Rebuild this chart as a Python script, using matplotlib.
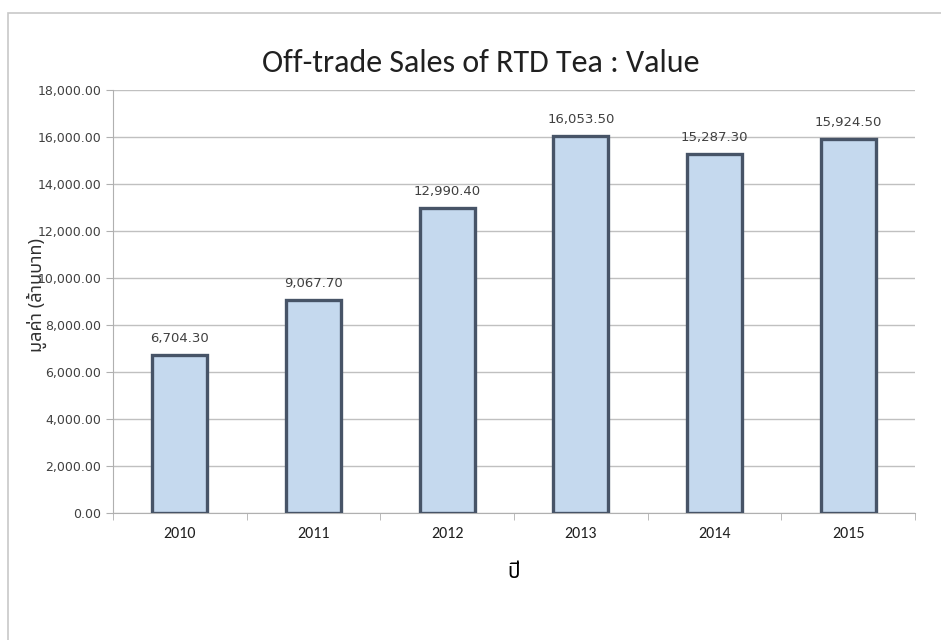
import matplotlib
matplotlib.use("Agg")
import matplotlib.pyplot as plt
from matplotlib import font_manager
from matplotlib.patches import Rectangle
from matplotlib.ticker import FuncFormatter, MultipleLocator

# Off-trade sales of RTD tea, value (million baht)
years = ["2010", "2011", "2012", "2013", "2014", "2015"]
values = [6704.30, 9067.70, 12990.40, 16053.50, 15287.30, 15924.50]

# pick a Thai-capable family that is actually installed
installed = {f.name for f in font_manager.fontManager.ttflist}
thai_font = next((n for n in ['Noto Sans Thai', 'Sarabun', 'Noto Sans Thai Looped',
                              'Anuphan', 'Athiti'] if n in installed), 'DejaVu Sans')
latin_font = 'Carlito' if 'Carlito' in installed else 'DejaVu Sans'

plt.rcParams['font.family'] = ['DejaVu Sans', thai_font]

fig = plt.figure(figsize=(9.41, 6.4), dpi=100)
ax = fig.add_axes([113 / 941, 1 - 513 / 640, (915 - 113) / 941, (513 - 90) / 640])

# outer chart frame
fig.patches.append(Rectangle((8 / 941, -0.01), 1.0, 1 - 13 / 640 + 0.01,
                             transform=fig.transFigure, fill=False,
                             edgecolor='#c8c8c8', linewidth=1.2))

x = list(range(len(years)))
ax.bar(x, values, width=0.41, color='#c5d9ee', edgecolor='#475467',
       linewidth=2.4, zorder=3)

for xi, v in zip(x, values):
    ax.text(xi, v + 430, f"{v:,.2f}", ha='center', va='bottom',
            fontsize=9.5, color='#404040')

ax.set_xlim(-0.5, len(years) - 0.5)
ax.set_ylim(0, 18000)
ax.yaxis.set_major_locator(MultipleLocator(2000))
ax.yaxis.set_major_formatter(FuncFormatter(lambda v, p: f"{v:,.2f}"))
ax.grid(axis='y', color='#c0c0c0', linewidth=1, zorder=0)

ax.set_xticks(x)
ax.set_xticklabels(years, family=latin_font, fontsize=11.5, color='#202020')
ax.set_xticks([i - 0.5 for i in range(len(years) + 1)], minor=True)
ax.tick_params(axis='x', which='major', length=0, pad=10)
ax.tick_params(axis='x', which='minor', length=5, color='#b0b0b0', direction='out')
ax.tick_params(axis='y', length=5, color='#b0b0b0', labelsize=9, labelcolor='#404040')

for side in ['top', 'right']:
    ax.spines[side].set_visible(False)
for side in ['left', 'bottom']:
    ax.spines[side].set_color('#b0b0b0')

# title sits a little left of the plot centre, as in the source chart
fig.text(481 / 941, 1 - 72 / 640, "Off-trade Sales of RTD Tea : Value", fontsize=23,
         color='#202020', ha='center', va='baseline', family=latin_font)
ax.set_xlabel("ปี", fontsize=15, labelpad=15, family=[thai_font, 'DejaVu Sans'])
ax.set_ylabel("มูลค่า (ล้านบาท)", fontsize=13, color='#303030',
              family=[thai_font, 'DejaVu Sans'])
ax.yaxis.set_label_coords(-0.082, 0.515)

fig.savefig("out.png", dpi=100)
